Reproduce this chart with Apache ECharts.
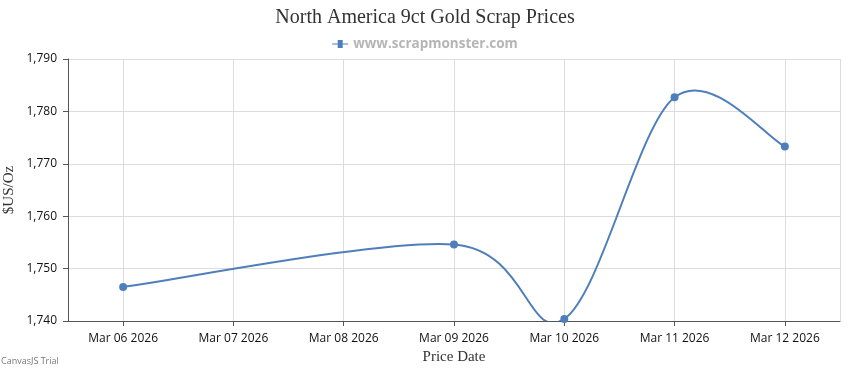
<!DOCTYPE html>
<html><head><meta charset="utf-8">
<script src="https://cdn.jsdelivr.net/npm/echarts@6/dist/echarts.min.js"></script>
<style>html,body{margin:0;padding:0;background:#fff}#c{width:850px;height:370px}</style>
</head><body><div id="c"></div>
<script>
const dates = ['2026-03-06','2026-03-09','2026-03-10','2026-03-11','2026-03-12'];
const prices = [1746.5, 1754.6, 1740.4, 1782.7, 1773.3];
const yTicks = [1740, 1750, 1760, 1770, 1780, 1790];
const seriesName = 'www.scrapmonster.com';
const titleText = 'North America 9ct Gold Scrap Prices';
const months = ['Jan','Feb','Mar','Apr','May','Jun','Jul','Aug','Sep','Oct','Nov','Dec'];
const DAY = 86400000;
const COLOR = '#4f7fbb';
const ts = d => Date.parse(d + 'T00:00:00Z');
const seriesData = dates.map((d, i) => [ts(d), prices[i]]);

function splineRender(params, api) {
  if (params.dataIndex !== 0) return null;
  const pts = seriesData.map(p => api.coord(p));
  const n = pts.length;
  let d = 'M' + pts[0][0] + ',' + pts[0][1];
  for (let i = 1; i < n; i++) {
    const a = i - 1;
    const a0 = a === 0 ? 0 : a - 1, a1 = Math.min(a + 1, n - 1);
    const b0 = i - 1, b1 = i === n - 1 ? i : i + 1;
    const c1x = pts[a][0] + (pts[a1][0] - pts[a0][0]) / 6;
    const c1y = pts[a][1] + (pts[a1][1] - pts[a0][1]) / 6;
    const c2x = pts[i][0] - (pts[b1][0] - pts[b0][0]) / 6;
    const c2y = pts[i][1] - (pts[b1][1] - pts[b0][1]) / 6;
    d += ' C' + c1x + ',' + c1y + ' ' + c2x + ',' + c2y + ' ' + pts[i][0] + ',' + pts[i][1];
  }
  const cs = params.coordSys;
  return {
    type: 'path',
    shape: {pathData: d},
    style: {fill: null, stroke: COLOR, lineWidth: 2},
    clipPath: {type: 'rect', shape: {x: cs.x, y: cs.y, width: cs.width, height: cs.height}}
  };
}

const chart = echarts.init(document.getElementById('c'));
chart.setOption({
  useUTC: true,
  animation: false,
  title: {text: titleText, left: 'center', top: 3,
    textStyle: {fontFamily: 'Liberation Serif', fontSize: 20, fontWeight: 'normal', color: '#333'}},
  legend: {top: 32, left: 'center', itemWidth: 16, itemHeight: 8, itemGap: 5,
    icon: 'path://M0,3.5 L5.5,3.5 L5.5,0 L10.5,0 L10.5,3.5 L16,3.5 L16,4.5 L10.5,4.5 L10.5,8 L5.5,8 L5.5,4.5 L0,4.5 Z',
    textStyle: {fontFamily: 'Open Sans', fontSize: 13.5, fontWeight: 'bold', color: '#b5b5b5'},
    data: [seriesName]},
  grid: {left: 68, right: 10, top: 59, bottom: 49, containLabel: false, outerBoundsMode: 'none'},
  xAxis: {type: 'time', min: ts(dates[0]) - DAY/2, max: ts(dates[dates.length-1]) + DAY/2,
    minInterval: DAY, maxInterval: DAY,
    name: 'Price Date', nameLocation: 'middle', nameGap: 28,
    nameTextStyle: {fontFamily: 'Liberation Serif', fontSize: 15, color: '#333'},
    axisLine: {lineStyle: {color: '#555', width: 1}},
    axisTick: {show: true, length: 5, lineStyle: {color: '#555'}},
    splitLine: {show: true, lineStyle: {color: '#dcdcdc'}},
    axisLabel: {fontFamily: 'Open Sans', fontSize: 12, color: '#111', margin: 12,
      formatter: v => { const d = new Date(v); return months[d.getUTCMonth()] + ' ' + String(d.getUTCDate()).padStart(2,'0') + ' ' + d.getUTCFullYear(); }}},
  yAxis: {type: 'value', min: yTicks[0], max: yTicks[yTicks.length-1], interval: 10,
    name: '$US/Oz', nameLocation: 'middle', nameGap: 51, nameMoveOverlap: false,
    nameTextStyle: {fontFamily: 'Liberation Serif', fontSize: 15, color: '#333'},
    axisLine: {show: true, lineStyle: {color: '#555', width: 1}},
    axisTick: {show: true, length: 5, lineStyle: {color: '#555'}},
    splitLine: {show: true, lineStyle: {color: '#dcdcdc'}},
    axisLabel: {fontFamily: 'Open Sans', fontSize: 12, color: '#111', margin: 11,
      formatter: v => v.toLocaleString('en-US')}},
  graphic: [{type: 'text', left: 1, top: 357, style: {text: 'CanvasJS Trial', fontFamily: 'Open Sans', fontSize: 9, fill: '#777'}}],
  series: [
    {type: 'custom', name: 'spline', data: [seriesData[0]], renderItem: splineRender, silent: true, z: 2},
    {name: seriesName, type: 'line', data: seriesData, symbol: 'circle', symbolSize: 8, z: 3,
      itemStyle: {color: COLOR}, lineStyle: {color: COLOR, width: 2, opacity: 0}}
  ]
});
</script></body></html>
